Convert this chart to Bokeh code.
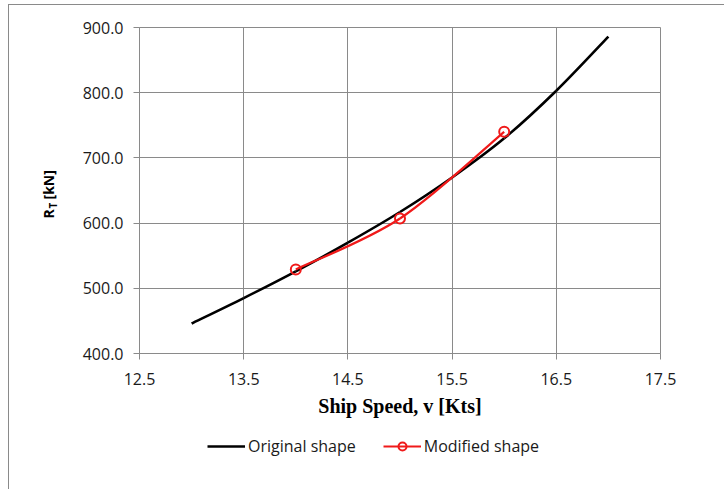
import numpy as np
from bokeh.plotting import figure
from bokeh.layouts import row, column
from bokeh.models import (Range1d, FixedTicker, NumeralTickFormatter,
                          Legend, LegendItem)
from bokeh.core.properties import value
from bokeh.embed import file_html
from bokeh.resources import INLINE

# ---- data ----
speed_orig = [13.0, 13.5, 14.0, 14.5, 15.0, 15.5, 16.0, 16.5, 17.0]
rt_orig = [446, 485, 526, 570, 617, 670, 730, 803, 886]
speed_mod = [14.0, 15.0, 16.0]
rt_mod = [529, 607, 740]
x_ticks = [12.5, 13.5, 14.5, 15.5, 16.5, 17.5]
y_ticks = [400, 500, 600, 700, 800, 900]
x_title = "Ship Speed, v [Kts]"
y_title_parts = ["R", "T", "[kN]"]
legend_labels = ["Original shape", "Modified shape"]

GRID = "#8a8a8a"
TICK_FONT = "Open Sans"
RED = "#f01a1a"
W_TOTAL = 715
H_MAIN, H_LEG = 423, 61
W_LEFT = 60
PX_Y = 500.0 / 326.0   # y data units per screen pixel in the main frame


def smooth_segments(xs, ys):
    """Excel-style smoothed line: cubic bezier control points from the data."""
    x = np.asarray(xs, float)
    y = np.asarray(ys, float)
    xp = np.concatenate([[x[0]], x, [x[-1]]])
    yp = np.concatenate([[y[0]], y, [y[-1]]])
    seg = dict(x0=[], y0=[], x1=[], y1=[], cx0=[], cy0=[], cx1=[], cy1=[])
    for i in range(len(x) - 1):
        j = i + 1
        seg["x0"].append(xp[j]); seg["y0"].append(yp[j])
        seg["x1"].append(xp[j + 1]); seg["y1"].append(yp[j + 1])
        seg["cx0"].append(xp[j] + (xp[j + 1] - xp[j - 1]) / 6)
        seg["cy0"].append(yp[j] + (yp[j + 1] - yp[j - 1]) / 6)
        seg["cx1"].append(xp[j + 1] - (xp[j + 2] - xp[j]) / 6)
        seg["cy1"].append(yp[j + 1] - (yp[j + 2] - yp[j]) / 6)
    return seg


def strip(width, height, y_range):
    f = figure(width=width, height=height, output_backend="svg", toolbar_location=None,
               x_range=Range1d(0, width), y_range=y_range,
               x_axis_location=None, y_axis_location=None, min_border=0)
    f.outline_line_color = None
    f.grid.visible = False
    f.background_fill_color = "white"
    f.border_fill_color = "white"
    return f


# ---------- main chart ----------
p = figure(width=W_TOTAL - W_LEFT, height=H_MAIN, output_backend="svg",
           toolbar_location=None,
           x_range=Range1d(12.5, 17.5), y_range=Range1d(400, 900),
           min_border_left=130 - W_LEFT, min_border_right=W_TOTAL - 651,
           min_border_top=22, min_border_bottom=H_MAIN - 348)
p.background_fill_color = "white"
p.border_fill_color = "white"
p.outline_line_color = GRID
p.outline_line_width = 1

p.xgrid.ticker = FixedTicker(ticks=x_ticks)
p.ygrid.ticker = FixedTicker(ticks=y_ticks)
for g in (p.xgrid, p.ygrid):
    g.grid_line_color = GRID
    g.grid_line_width = 1

for ax in (p.xaxis, p.yaxis):
    ax.axis_line_color = GRID
    ax.major_tick_line_color = GRID
    ax.major_tick_in = 0
    ax.major_tick_out = 6
    ax.minor_tick_line_color = None
    ax.major_label_text_font = TICK_FONT
    ax.major_label_text_font_size = "16px"
    ax.major_label_text_color = "#1a1a1a"
    ax.formatter = NumeralTickFormatter(format="0.0")
p.xaxis.ticker = FixedTicker(ticks=x_ticks)
p.yaxis.ticker = FixedTicker(ticks=y_ticks)
p.xaxis.major_label_standoff = 13
p.yaxis.major_label_standoff = 10
p.xaxis.axis_label = x_title
p.xaxis.axis_label_text_font = "Liberation Serif"
p.xaxis.axis_label_text_font_style = "bold"
p.xaxis.axis_label_text_font_size = "20px"
p.xaxis.axis_label_text_color = "black"
p.xaxis.axis_label_standoff = 7

so = smooth_segments(speed_orig, rt_orig)
p.bezier(line_color="black", line_width=2.6, **so)
sm = smooth_segments(speed_mod, rt_mod)
p.bezier(line_color=RED, line_width=2.2, **sm)
p.scatter(speed_mod, rt_mod, marker="circle", size=10, line_color=RED,
          line_width=2, fill_alpha=0)

# ---------- left strip: y-axis title with subscript (frame aligned with main) ----------
pl = strip(W_LEFT, H_MAIN, p.y_range)
tcommon = dict(angle=np.pi / 2, text_font=value(TICK_FONT), text_font_style="bold",
               text_color="black", text_baseline="middle", text_align="left")
y_r = 900 - (213 - 22) * PX_Y
pl.text(x=[39], y=[y_r], text=[y_title_parts[0]], text_font_size="14px", **tcommon)
pl.text(x=[43], y=[y_r + 10 * PX_Y], text=[y_title_parts[1]], text_font_size="10px",
        **tcommon)
pl.text(x=[39], y=[y_r + 19 * PX_Y], text=[y_title_parts[2]], text_font_size="14px",
        **tcommon)

# ---------- bottom strip: legend ----------
pb = strip(W_TOTAL, H_LEG, Range1d(H_LEG, 0))
# legend renderers carry the real series; they fall outside this strip's range
leg_black = pb.line(speed_orig, rt_orig, line_color="black", line_width=2.6)
leg_red = pb.line(speed_mod, rt_mod, line_color=RED, line_width=2.2)
leg_pts = pb.scatter(speed_mod, rt_mod, marker="circle", size=10, line_color=RED,
                     line_width=2, fill_alpha=0)
legend = Legend(items=[LegendItem(label=legend_labels[0], renderers=[leg_black]),
                       LegendItem(label=legend_labels[1], renderers=[leg_red, leg_pts])],
                orientation="horizontal", location=(198, 32))
legend.background_fill_alpha = 0
legend.border_line_alpha = 0
legend.padding = 0
legend.margin = 0
legend.spacing = 27
legend.glyph_width = 38
legend.glyph_height = 20
legend.label_standoff = 3
legend.label_text_font = TICK_FONT
legend.label_text_font_size = "16px"
legend.label_text_color = "#1a1a1a"
legend.label_height = 20
pb.add_layout(legend)

layout = column(row(pl, p), pb)
layout.styles = {"margin-left": "8px", "margin-top": "4px",
                 "border-left": "1px solid #8a8a8a", "border-top": "1px solid #8a8a8a"}
open("out.html", "w").write(file_html(layout, INLINE))
